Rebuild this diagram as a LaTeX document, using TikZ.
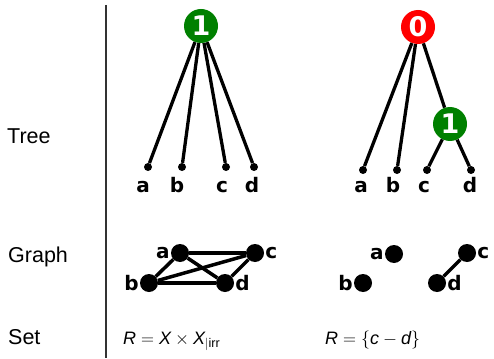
\RequirePackage{fix-cm}
\documentclass[tikz,border=0pt]{standalone}
\usepackage{fontspec}
\setmainfont{Liberation Sans}
\newfontfamily\deja{DejaVu Sans}
\usepackage{tikz}
\usetikzlibrary{positioning}
\definecolor{okgreen}{RGB}{0,128,0}

\begin{document}
\begin{tikzpicture}[x=1pt, y=-1pt,
        gate/.style={circle, minimum size=34pt, inner sep=0pt, text=white,
            font=\deja\bfseries\fontsize{27}{30}\selectfont},
        leaf/.style={circle, fill=black, minimum size=8pt, inner sep=0pt},
        vtx/.style={circle, fill=black, minimum size=18pt, inner sep=0pt},
        lbl/.style={font=\deja\bfseries\fontsize{20}{24}\selectfont,
            text height=15pt, text depth=0pt, inner sep=1pt},
        glbl/.style={font=\deja\bfseries\fontsize{20}{24}\selectfont, inner sep=1pt},
        row/.style={anchor=base west, inner sep=0pt, font=\fontsize{21.5}{26}\selectfont},
        wire/.style={line width=3.3pt},
        link/.style={line width=3.5pt}]
        \useasboundingbox (0,0) rectangle (494,358);

        % row names
        \node[row] (tree)  at (7,143) {Tree};
        \node[row] (graph) at (8,262) {Graph};
        \node[row] (set)   at (8,344) {Set};
        \coordinate (top) at (106,5);
        \coordinate (bot) at (106,358);
        \draw[line width=1.2pt, black!80] (top) -- (bot);

        % left tree
        \node[gate, fill=okgreen] (r1) at (201,26) {1};
        \node[leaf, label={[lbl, label distance=5pt, xshift=-5pt]below:a}] (a1) at (148,167) {};
        \node[leaf, label={[lbl, label distance=5pt, xshift=-5pt]below:b}] (b1) at (182,167) {};
        \node[leaf, label={[lbl, label distance=5pt, xshift=-4pt]below:c}] (c1) at (226,167) {};
        \node[leaf, label={[lbl, label distance=5pt, xshift=-2pt]below:d}] (d1) at (254,167) {};

        \path[wire]
        (r1) edge (a1)
        (r1) edge (b1)
        (r1) edge (c1)
        (r1) edge (d1);

        % right tree
        \node[gate, fill=red] (r0) at (418,27) {0};
        \node[gate, fill=okgreen] (n1) at (450,124) {1};
        \node[leaf, label={[lbl, label distance=2pt, xshift=-2pt]below:a}] (a2) at (363,170) {};
        \node[leaf, label={[lbl, label distance=2pt, xshift=-4pt]below:b}] (b2) at (397,170) {};
        \node[leaf, label={[lbl, label distance=2pt, xshift=-3pt]below:c}] (c2) at (427,170) {};
        \node[leaf, label={[lbl, label distance=2pt, xshift=-1pt]below:d}] (d2) at (471,170) {};

        \path[wire]
        (r0) edge (a2)
        (r0) edge (b2)
        (r0) edge (n1)
        (n1) edge (c2)
        (n1) edge (d2);

        % left graph
        \node[vtx, label={[glbl]left:a}]  (ga1) at (180,253) {};
        \node[vtx, label={[glbl]right:c}] (gc1) at (255,253) {};
        \node[vtx, label={[glbl]left:b}]  (gb1) at (149,283) {};
        \node[vtx, label={[glbl]right:d}] (gd1) at (225,283) {};

        \path[link]
        (ga1) edge (gc1)
        (ga1) edge (gb1)
        (ga1) edge (gd1)
        (gb1) edge (gc1)
        (gb1) edge (gd1)
        (gc1) edge (gd1);

        % right graph
        \node[vtx, label={[glbl]left:a}]  (ga2) at (394,254) {};
        \node[vtx, label={[glbl]right:c}] (gc2) at (467,253) {};
        \node[vtx, label={[glbl]left:b}]  (gb2) at (363,283) {};
        \node[vtx, label={[glbl]right:d}] (gd2) at (437,283) {};

        \path[link]
        (gc2) edge (gd2);

        % sets
        \node[row, font=\fontsize{18}{22}\selectfont] (setl) at (123,344)
            {$\textit{R} = \textit{X} \times \textit{X}_{|\mathrm{irr}}$};
        \node[row, font=\fontsize{18}{22}\selectfont] (setr) at (325,344)
            {$\textit{R} = \{\textit{c} - \textit{d}\}$};
\end{tikzpicture}
\end{document}
